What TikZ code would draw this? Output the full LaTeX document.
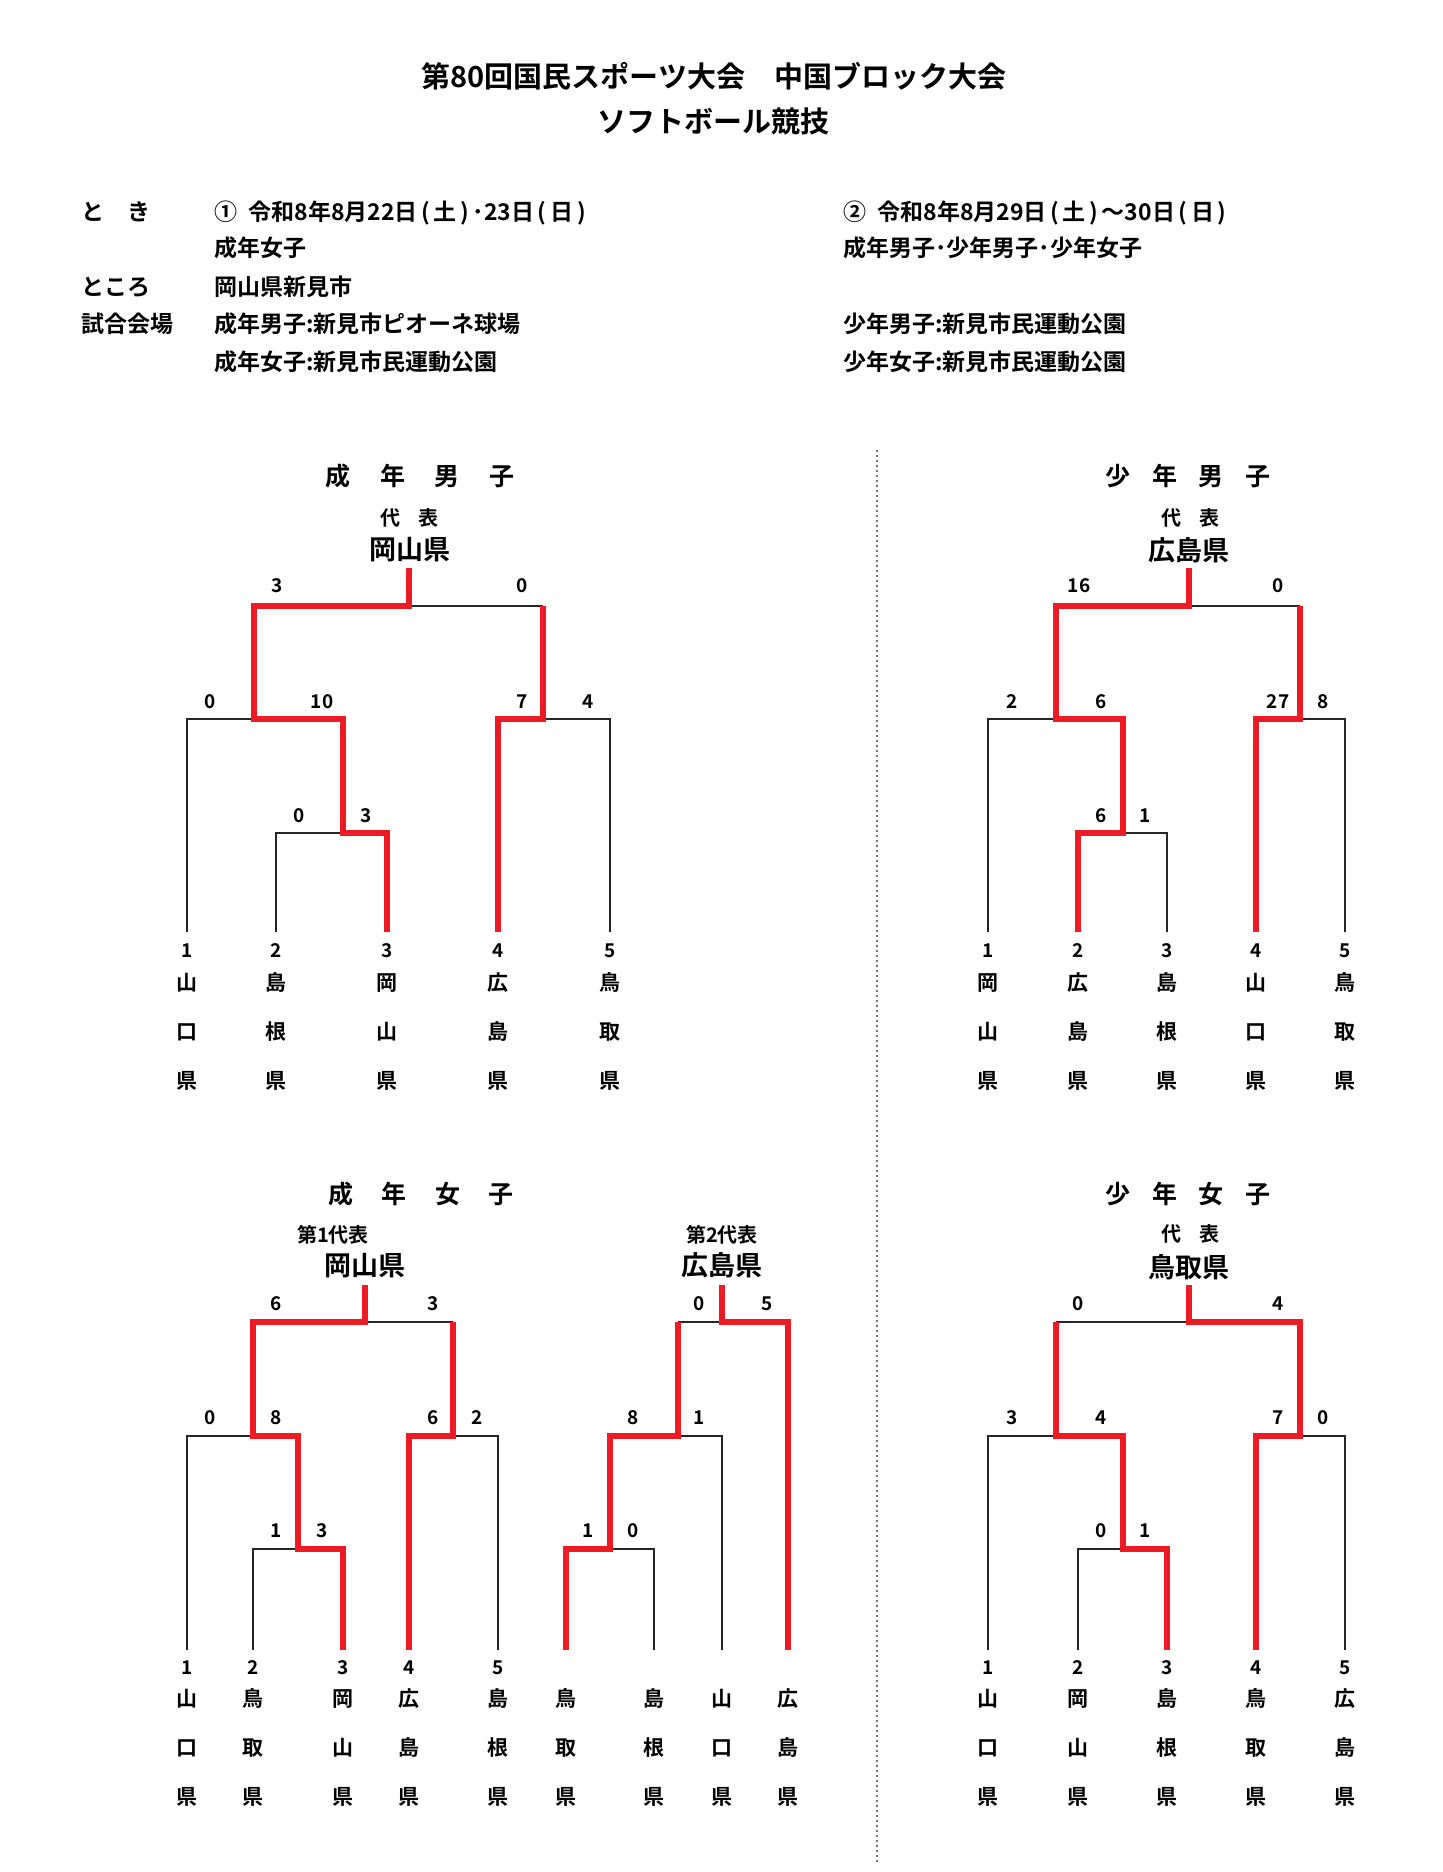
\documentclass[tikz,border=0pt]{standalone}
\usepackage{fontspec}
\setmainfont{Noto Sans CJK JP}[BoldFont={Noto Sans CJK JP Bold}]
\usetikzlibrary{calc,positioning}
\definecolor{winred}{RGB}{237,28,36}
\newcommand{\dayof}[1]{\hspace{.15em}(\hspace{.17em}#1\hspace{.17em})\hspace{.15em}}

\begin{document}
\begin{tikzpicture}[
x=0.5pt, y=-0.5pt,
every node/.style={inner sep=0pt, outer sep=0pt},
ttl/.style={font=\fontsize{14.5}{14.5}\selectfont\bfseries, text height=12.8pt, text depth=1.7pt},
hdr/.style={anchor=west, font=\fontsize{11.5}{11.5}\selectfont\bfseries, text height=10.1pt, text depth=1.4pt},
event/.style={font=\fontsize{12.5}{12.5}\selectfont\bfseries, text height=11pt, text depth=1.5pt},
rep/.style={font=\fontsize{10}{10}\selectfont\bfseries, text height=8.8pt, text depth=1.2pt},
champ/.style={font=\fontsize{13.5}{13.5}\selectfont\bfseries, text height=11.9pt, text depth=1.6pt},
score/.style={font=\fontsize{9.5}{9.5}\selectfont\bfseries, text height=8.4pt, text depth=1.1pt},
pref/.style={anchor=base, align=center, font=\fontsize{10.5}{24.5}\selectfont\bfseries},
lose/.style={draw=black!85, line width=1pt},
win/.style={draw=winred, line width=3pt, line join=miter},
sep/.style={draw=black!55, line width=1pt, dash pattern=on 1pt off 1.5pt}
]
\useasboundingbox (0,0) rectangle (1442,1872);

\node[ttl] (title1) at (714,76) {第80回国民スポーツ大会　中国ブロック大会};
\node[ttl] (title2) at (713,121) {ソフトボール競技};

\node[hdr] (toki) at (81,212) {と　き};
\node[hdr] (date1) at (214,212) {①\hspace{0.5em}令和8年8月22日\dayof{土}･23日\dayof{日}};
\node[hdr] (date2) at (843,212) {②\hspace{0.5em}令和8年8月29日\dayof{土}～30日\dayof{日}};
\node[hdr] (cls1) at (214,248) {成年女子};
\node[hdr] (cls2) at (843,248) {成年男子･少年男子･少年女子};
\node[hdr] (tokoro) at (81,287) {ところ};
\node[hdr] (place) at (214,287) {岡山県新見市};
\node[hdr] (kaijo) at (81,324) {試合会場};
\node[hdr] (venue1) at (214,324) {成年男子:新見市ピオーネ球場};
\node[hdr] (venue2) at (214,362) {成年女子:新見市民運動公園};
\node[hdr] (venue3) at (843,324) {少年男子:新見市民運動公園};
\node[hdr] (venue4) at (843,362) {少年女子:新見市民運動公園};

\coordinate (sepT) at (877,450);
\coordinate (sepB) at (877,1863);
\draw[sep] (sepT) -- (sepB);

% seinen danshi
\node[event] (menT) at (420,476) {成\hspace{14.8pt}年\hspace{14.8pt}男\hspace{14.8pt}子};
\node[rep] (menR) at (409,518) {代\hspace{9pt}表};
\node[champ] (menC) at (410,549) {岡山県};
\coordinate (men1) at (187,932);
\coordinate (men2) at (276,932);
\coordinate (men3) at (387,932);
\coordinate (men4) at (498,932);
\coordinate (men5) at (610,932);
\coordinate (men23) at (343,833);
\coordinate (men123) at (254,719);
\coordinate (men45) at (543,719);
\coordinate (menF) at (409,606);
\coordinate (menW) at (409,568);
\draw[lose] (men1) |- (men123);
\draw[lose] (men2) |- (men23);
\draw[lose] (men5) |- (men45);
\draw[lose] (men45 |- menF) -- (menF);
\draw[win] (men3) |- (men23) |- (men123) |- (menF) -- (menW);
\draw[win] (men4) |- (men45) -- (men45 |- menF);
\node[score] (menS1) at (277,585) {3};
\node[score] (menS2) at (522,585) {0};
\node[score] (menS3) at (210,701) {0};
\node[score] (menS4) at (322,701) {10};
\node[score] (menS5) at (522,701) {7};
\node[score] (menS6) at (588,701) {4};
\node[score] (menS7) at (299,815) {0};
\node[score] (menS8) at (366,815) {3};
\node[score] (menN1) at (187,950) {1};
\node[score] (menN2) at (276,950) {2};
\node[score] (menN3) at (387,950) {3};
\node[score] (menN4) at (498,950) {4};
\node[score] (menN5) at (610,950) {5};
\node[pref] (menP1) at (187,1088) {山\\口\\県};
\node[pref] (menP2) at (276,1088) {島\\根\\県};
\node[pref] (menP3) at (387,1088) {岡\\山\\県};
\node[pref] (menP4) at (498,1088) {広\\島\\県};
\node[pref] (menP5) at (610,1088) {鳥\\取\\県};

% shonen danshi
\node[event] (boyT) at (1188,476) {少\hspace{10.9pt}年\hspace{10.9pt}男\hspace{10.9pt}子};
\node[rep] (boyR) at (1190,518) {代\hspace{9pt}表};
\node[champ] (boyC) at (1189,550) {広島県};
\coordinate (boy1) at (988,932);
\coordinate (boy2) at (1078,932);
\coordinate (boy3) at (1167,932);
\coordinate (boy4) at (1256,932);
\coordinate (boy5) at (1345,932);
\coordinate (boy23) at (1123,833);
\coordinate (boy123) at (1056,719);
\coordinate (boy45) at (1300,719);
\coordinate (boyF) at (1189,606);
\coordinate (boyW) at (1189,568);
\draw[lose] (boy1) |- (boy123);
\draw[lose] (boy3) |- (boy23);
\draw[lose] (boy5) |- (boy45);
\draw[lose] (boy45 |- boyF) -- (boyF);
\draw[win] (boy2) |- (boy23) |- (boy123) |- (boyF) -- (boyW);
\draw[win] (boy4) |- (boy45) -- (boy45 |- boyF);
\node[score] (boyS1) at (1079,585) {16};
\node[score] (boyS2) at (1278,585) {0};
\node[score] (boyS3) at (1012,701) {2};
\node[score] (boyS4) at (1101,701) {6};
\node[score] (boyS5) at (1278,701) {27};
\node[score] (boyS6) at (1323,701) {8};
\node[score] (boyS7) at (1101,815) {6};
\node[score] (boyS8) at (1145,815) {1};
\node[score] (boyN1) at (988,950) {1};
\node[score] (boyN2) at (1078,950) {2};
\node[score] (boyN3) at (1167,950) {3};
\node[score] (boyN4) at (1256,950) {4};
\node[score] (boyN5) at (1345,950) {5};
\node[pref] (boyP1) at (988,1088) {岡\\山\\県};
\node[pref] (boyP2) at (1078,1088) {広\\島\\県};
\node[pref] (boyP3) at (1167,1088) {島\\根\\県};
\node[pref] (boyP4) at (1256,1088) {山\\口\\県};
\node[pref] (boyP5) at (1345,1088) {鳥\\取\\県};

% seinen joshi
\node[event] (womT) at (421,1194) {成\hspace{14.3pt}年\hspace{14.3pt}女\hspace{14.3pt}子};
\node[rep] (womR) at (333,1235) {第1代表};
\node[champ] (womC) at (365,1265) {岡山県};
\coordinate (wom1) at (187,1650);
\coordinate (wom2) at (253,1650);
\coordinate (wom3) at (343,1650);
\coordinate (wom4) at (409,1650);
\coordinate (wom5) at (498,1650);
\coordinate (wom23) at (298,1549);
\coordinate (wom123) at (253,1436);
\coordinate (wom45) at (453,1436);
\coordinate (womF) at (365,1322);
\coordinate (womW) at (365,1285);
\draw[lose] (wom1) |- (wom123);
\draw[lose] (wom2) |- (wom23);
\draw[lose] (wom5) |- (wom45);
\draw[lose] (wom45 |- womF) -- (womF);
\draw[win] (wom3) |- (wom23) |- (wom123) |- (womF) -- (womW);
\draw[win] (wom4) |- (wom45) -- (wom45 |- womF);
\node[score] (womS1) at (276,1303) {6};
\node[score] (womS2) at (433,1303) {3};
\node[score] (womS3) at (210,1417) {0};
\node[score] (womS4) at (276,1417) {8};
\node[score] (womS5) at (433,1417) {6};
\node[score] (womS6) at (477,1417) {2};
\node[score] (womS7) at (276,1530) {1};
\node[score] (womS8) at (322,1530) {3};
\node[score] (womN1) at (187,1667) {1};
\node[score] (womN2) at (253,1667) {2};
\node[score] (womN3) at (343,1667) {3};
\node[score] (womN4) at (409,1667) {4};
\node[score] (womN5) at (498,1667) {5};
\node[pref] (womP1) at (187,1804) {山\\口\\県};
\node[pref] (womP2) at (253,1804) {鳥\\取\\県};
\node[pref] (womP3) at (343,1804) {岡\\山\\県};
\node[pref] (womP4) at (409,1804) {広\\島\\県};
\node[pref] (womP5) at (498,1804) {島\\根\\県};

% seinen joshi, second place
\node[rep] (wosR) at (722,1235) {第2代表};
\node[champ] (wosC) at (722,1265) {広島県};
\coordinate (wos1) at (566,1650);
\coordinate (wos2) at (654,1650);
\coordinate (wos3) at (722,1650);
\coordinate (wos4) at (788,1650);
\coordinate (wos12) at (610,1549);
\coordinate (wos123) at (678,1436);
\coordinate (wosF) at (722,1322);
\coordinate (wosW) at (722,1285);
\draw[lose] (wos2) |- (wos12);
\draw[lose] (wos3) |- (wos123);
\draw[lose] (wos123 |- wosF) -- (wosF);
\draw[win] (wos1) |- (wos12) |- (wos123) -- (wos123 |- wosF);
\draw[win] (wos4) |- (wosF) -- (wosW);
\node[score] (wosS1) at (699,1303) {0};
\node[score] (wosS2) at (767,1303) {5};
\node[score] (wosS3) at (633,1417) {8};
\node[score] (wosS4) at (699,1417) {1};
\node[score] (wosS5) at (588,1530) {1};
\node[score] (wosS6) at (633,1530) {0};
\node[pref] (wosP1) at (566,1804) {鳥\\取\\県};
\node[pref] (wosP2) at (654,1804) {島\\根\\県};
\node[pref] (wosP3) at (722,1804) {山\\口\\県};
\node[pref] (wosP4) at (788,1804) {広\\島\\県};

% shonen joshi
\node[event] (girlT) at (1188,1194) {少\hspace{10.9pt}年\hspace{10.9pt}女\hspace{10.9pt}子};
\node[rep] (girlR) at (1190,1234) {代\hspace{9pt}表};
\node[champ] (girlC) at (1189,1267) {鳥取県};
\coordinate (girl1) at (988,1650);
\coordinate (girl2) at (1078,1650);
\coordinate (girl3) at (1167,1650);
\coordinate (girl4) at (1256,1650);
\coordinate (girl5) at (1345,1650);
\coordinate (girl23) at (1123,1549);
\coordinate (girl123) at (1056,1436);
\coordinate (girl45) at (1300,1436);
\coordinate (girlF) at (1189,1322);
\coordinate (girlW) at (1189,1285);
\draw[lose] (girl1) |- (girl123);
\draw[lose] (girl2) |- (girl23);
\draw[lose] (girl5) |- (girl45);
\draw[lose] (girl123 |- girlF) -- (girlF);
\draw[win] (girl3) |- (girl23) |- (girl123) -- (girl123 |- girlF);
\draw[win] (girl4) |- (girl45) |- (girlF) -- (girlW);
\node[score] (girlS1) at (1078,1303) {0};
\node[score] (girlS2) at (1278,1303) {4};
\node[score] (girlS3) at (1012,1417) {3};
\node[score] (girlS4) at (1101,1417) {4};
\node[score] (girlS5) at (1278,1417) {7};
\node[score] (girlS6) at (1323,1417) {0};
\node[score] (girlS7) at (1101,1530) {0};
\node[score] (girlS8) at (1145,1530) {1};
\node[score] (girlN1) at (988,1667) {1};
\node[score] (girlN2) at (1078,1667) {2};
\node[score] (girlN3) at (1167,1667) {3};
\node[score] (girlN4) at (1256,1667) {4};
\node[score] (girlN5) at (1345,1667) {5};
\node[pref] (girlP1) at (988,1804) {山\\口\\県};
\node[pref] (girlP2) at (1078,1804) {岡\\山\\県};
\node[pref] (girlP3) at (1167,1804) {島\\根\\県};
\node[pref] (girlP4) at (1256,1804) {鳥\\取\\県};
\node[pref] (girlP5) at (1345,1804) {広\\島\\県};
\end{tikzpicture}
\end{document}
